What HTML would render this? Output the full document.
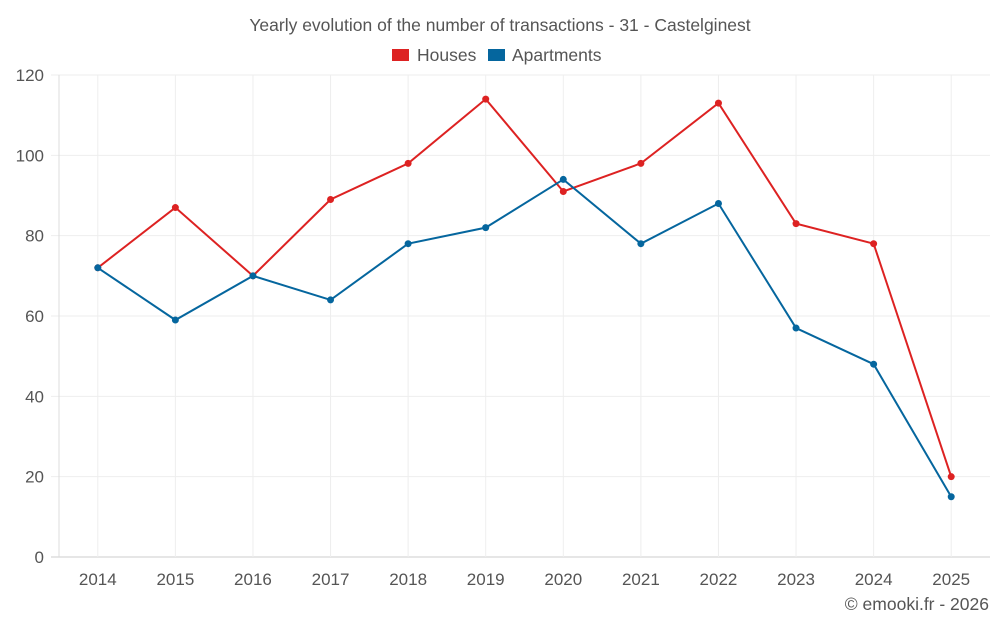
<!DOCTYPE html>
<html><head><meta charset="utf-8"><style>
body{margin:0;background:#fff;font-family:"Liberation Sans",sans-serif}
svg text{font-family:"Liberation Sans",sans-serif}
</style></head><body>
<svg id="chart" width="1000" height="625" xmlns="http://www.w3.org/2000/svg">
<text x="500" y="31" text-anchor="middle" font-size="17.5" fill="#555">Yearly evolution of the number of transactions - 31 - Castelginest</text>
<g>
<g><rect x="392" y="49" width="17" height="12" fill="#dd2222"/><text x="417" y="61" font-size="17.5" fill="#555">Houses</text></g>
<g><rect x="488" y="49" width="17" height="12" fill="#05669e"/><text x="512" y="61" font-size="17.5" fill="#555">Apartments</text></g>
</g>
<g id="grid"></g><g id="axes"></g><g id="series"></g>
<text x="989" y="610" text-anchor="end" font-size="17.5" fill="#555">© emooki.fr - 2026</text>
</svg>
<script>
const categories=["2014","2015","2016","2017","2018","2019","2020","2021","2022","2023","2024","2025"];
const houses=[72,87,70,89,98,114,91,98,113,83,78,20];
const apartments=[72,59,70,64,78,82,94,78,88,57,48,15];
const yTicks=[0,20,40,60,80,100,120];
const NS="http://www.w3.org/2000/svg";
const L=59,R=990,T=75,B=557,yMax=120;
const bw=(R-L)/categories.length;
const x=i=>L+bw*(i+0.5);
const y=v=>B-(v/yMax)*(B-T);
function mk(tag,attrs,parent){const e=document.createElementNS(NS,tag);for(const k in attrs)e.setAttribute(k,attrs[k]);document.getElementById(parent).appendChild(e);return e;}
yTicks.forEach(t=>{
  const g=mk('line',{x1:51,x2:R,y1:y(t),y2:y(t),stroke:t===0?'#ccc':'#eee'},'grid');
  
  
  const tx=mk('text',{x:44,y:y(t)+6,'text-anchor':'end','font-size':17,fill:'#555'},'axes');
  tx.textContent=t;
  
  
});
categories.forEach((c,i)=>{
  const g=mk('line',{x1:x(i),x2:x(i),y1:T,y2:B,stroke:'#eee'},'grid');
  
  
  const tx=mk('text',{x:x(i),y:585,'text-anchor':'middle','font-size':17,fill:'#555'},'axes');
  tx.textContent=c;
  
  
});
const ya=mk('line',{x1:L,x2:L,y1:T,y2:B,stroke:'#ddd'},'axes');


function series(vals,color,name){
  const p=mk('polyline',{points:vals.map((v,i)=>x(i)+','+y(v)).join(' '),fill:'none',stroke:color,'stroke-width':2},'series');
  
  
  vals.forEach((v,i)=>{
    const c=mk('circle',{cx:x(i),cy:y(v),r:3.5,fill:color},'series');
    
    
  });
}
series(houses,'#dd2222','houses');
series(apartments,'#05669e','apartments');
</script>
</body></html>
